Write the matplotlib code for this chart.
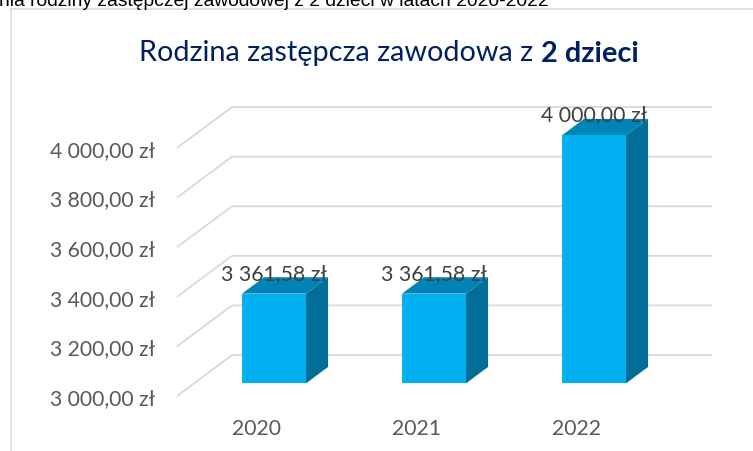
import matplotlib
matplotlib.use("Agg")
import matplotlib.pyplot as plt
from matplotlib.patches import Polygon
from matplotlib.lines import Line2D

# data
categories = ["2020", "2021", "2022"]
values = [3361.58, 3361.58, 4000.00]
y_ticks = [3000, 3200, 3400, 3600, 3800, 4000]
caption = "nia rodziny zastępczej zawodowej z 2 dzieci w latach 2020-2022"
title_normal = "Rodzina zastępcza zawodowa z "
title_bold = "2 dzieci"


def zl(v):
    return f"{v:,.2f}".replace(",", " ").replace(".", ",") + " zł"


W, H = 753, 452
fig = plt.figure(figsize=(W / 100, H / 100), dpi=100)
fig.patch.set_facecolor("white")

# pseudo 3d geometry (in axis units)
dx, dy = 0.344, 165.0     # full floor depth
bw = 0.4                  # bar width
f0, f1 = 0.31, 0.71       # bar front / back depth
ymin, ymax = y_ticks[0], y_ticks[-1]

ax = fig.add_axes([177 / W, (H - 397) / H, 535 / W, 289 / H])
ax.set_xlim(-0.5, len(categories) - 0.5 + dx)
ax.set_ylim(ymin, ymax + dy)
for s in ax.spines.values():
    s.set_visible(False)
ax.patch.set_visible(False)

# gridlines: side wall diagonal + back wall
for t in y_ticks:
    ax.plot([-0.5, -0.5 + dx, len(categories) - 0.5 + dx], [t, t + dy, t + dy],
            color="#D9D9D9", lw=1.3, zorder=0, clip_on=False, solid_capstyle="butt")

front_c, top_c, side_c = "#00B0F0", "#0084B6", "#006E99"
ddx, ddy = (f1 - f0) * dx, (f1 - f0) * dy
for i, v in enumerate(values):
    x0 = i - bw / 2 + f0 * dx
    x1 = i + bw / 2 + f0 * dx
    yb = ymin + f0 * dy
    yt = v + f0 * dy
    ax.add_patch(Polygon([(x1, yb), (x1, yt), (x1 + ddx, yt + ddy), (x1 + ddx, yb + ddy)],
                         closed=True, facecolor=side_c, edgecolor="none", zorder=2))
    ax.add_patch(Polygon([(x0, yt), (x1, yt), (x1 + ddx, yt + ddy), (x0 + ddx, yt + ddy)],
                         closed=True, facecolor=top_c, edgecolor="none", zorder=2))
    ax.add_patch(Polygon([(x0, yb), (x1, yb), (x1, yt), (x0, yt)],
                         closed=True, facecolor=front_c, edgecolor="none", zorder=3))
    ax.annotate(zl(v), xy=((x0 + x1) / 2, yt), xytext=(0, 16.5), textcoords="offset points",
                ha="center", va="center_baseline", fontsize=15.3, family="Lato",
                color="#404040", zorder=5)

ax.set_yticks(y_ticks, labels=[zl(t) for t in y_ticks])
ax.set_xticks(range(len(categories)), labels=categories)
ax.tick_params(axis="y", length=0, pad=15.8, labelsize=15.2, labelcolor="#595959")
ax.tick_params(axis="x", length=0, pad=15.5, labelsize=15.2, labelcolor="#595959")
for lab in ax.get_xticklabels() + ax.get_yticklabels():
    lab.set_family("Lato")

# chart area border (left and top edges visible)
fig.add_artist(Line2D([11 / W, 11 / W], [-0.01, (H - 9.5) / H], color="#D9D9D9", lw=1.1))
fig.add_artist(Line2D([11 / W, 1.01], [(H - 9.5) / H, (H - 9.5) / H], color="#D9D9D9", lw=1.1))

# caption cut at the top
fig.text(-1 / W, (H - 6) / H, caption, family="Liberation Sans", fontsize=13.9,
         color="black", va="baseline", ha="left")

# title with bold part
r = fig.canvas.get_renderer()
ty = (H - 61.5) / H
t1 = fig.text(0, ty, title_normal, family="Lato", fontsize=20.8, color="#002060", va="baseline")
t2 = fig.text(0, ty, title_bold, family="Lato", fontsize=20.8, color="#002060",
              fontweight="bold", va="baseline")
w1 = t1.get_window_extent(r).width
w2 = t2.get_window_extent(r).width
x_start = 389 - (w1 + w2) / 2
t1.set_x(x_start / W)
t2.set_x((x_start + w1) / W)

fig.savefig("out.png", dpi=100)
